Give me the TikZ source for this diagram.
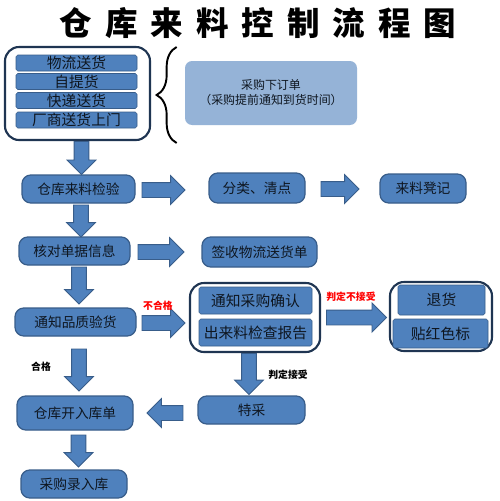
\documentclass[tikz,border=0pt]{standalone}
\usepackage{fontspec}
\usepackage{tikz}
\usetikzlibrary{shapes.arrows,decorations.pathreplacing,calc}
\newfontfamily\cjk{Noto Sans CJK SC}
\newfontfamily\titlefont{Noto Sans CJK SC}[LetterSpace=40]
\definecolor{boxblue}{HTML}{4F81BD}
\definecolor{boxedge}{HTML}{385D8A}
\definecolor{darkblue}{HTML}{1F3552}
\definecolor{lightblue}{HTML}{95B3D7}
\definecolor{inktext}{HTML}{0E1620}
\tikzset{
    flowbox/.style={
        draw=boxedge,
        line width=0.7pt,
        fill=boxblue,
        rounded corners=5pt,
        text=inktext,
        inner sep=0pt,
        font=\cjk\fontsize{7.8pt}{9pt}\selectfont
    }
}
\tikzset{
    barbox/.style={
        flowbox,
        rounded corners=1pt,
        line width=0.3pt,
        font=\cjk\fontsize{8.4pt}{9pt}\selectfont
    }
}
\tikzset{
    groupbox/.style={
        draw=darkblue,
        line width=1.2pt,
        fill=white,
        rounded corners=8pt
    }
}
\tikzset{
    fatarrow/.style={
        draw=boxedge,
        line width=0.5pt,
        fill=boxblue,
        single arrow,
        single arrow head extend=0.14cm,
        inner sep=0.14cm,
        minimum width=0.56cm,
        anchor=tail
    }
}
\tikzset{
    note/.style={font=\cjk\bfseries\fontsize{5.6pt}{6pt}\selectfont, inner sep=0pt}
}
\newcommand{\drawStep}[5]{\node[flowbox, minimum width=#3*0.02cm, minimum height=#4*0.02cm] (#1) at #2 {#5}}
\newcommand{\drawBar}[5]{\node[barbox, minimum width=#3*0.02cm, minimum height=#4*0.02cm] (#1) at #2 {#5}}
\newcommand{\drawGroup}[4]{\node[groupbox, minimum width=#3*0.02cm, minimum height=#4*0.02cm] (#1) at #2 {}}
\newcommand{\drawArrow}[4]{\node[fatarrow, minimum height=#4*0.02cm, rotate=#3] (#1) at #2 {}}

\begin{document}
\begin{tikzpicture}[x=0.02cm, y=-0.02cm]

    \useasboundingbox[fill=white] (0,0) rectangle (500,501);

    \node[font=\titlefont\bfseries\fontsize{18.5pt}{20pt}\selectfont, inner sep=0pt] (title) at (258,23) {仓库来料控制流程图};

    \drawGroup{grpA}{(77.5,93.5)}{145}{93};
    \drawBar{bar1}{(76.5,63)}{121}{16}{物流送货};
    \drawBar{bar2}{(76.5,81.5)}{121}{16}{自提货};
    \drawBar{bar3}{(76.5,100.5)}{121}{16}{快递送货};
    \drawBar{bar4}{(76.5,120)}{121}{16}{厂商送货上门};

    \node[fill=lightblue, rounded corners=4pt, minimum width=172*0.02cm, minimum height=64*0.02cm, align=center, text=inktext, font=\cjk\fontsize{6.8pt}{8.5pt}\selectfont] (order) at (271,93) {采购下订单\\（采购提前通知到货时间）};

    \draw[line width=1.1pt, decorate, decoration={brace, amplitude=0.4cm}] ($(order.west)+(-8,50)$) -- ($(order.west)+(-8,-46)$);

    \drawStep{chk}{(78.5,189)}{113}{28}{仓库来料检验};
    \drawStep{sort}{(257,188)}{96}{30}{分类、清点};
    \drawStep{reg}{(423,188.5)}{86}{29}{来料凳记};

    \drawStep{verify}{(74.5,251)}{111}{28}{核对单据信息};
    \drawStep{sign}{(259.5,252)}{115}{30}{签收物流送货单};

    \drawStep{qc}{(75.5,322)}{121}{28}{通知品质验货};

    \drawGroup{grpB}{(255,317.5)}{130}{69};
    \drawBar{notify}{(255.5,300.5)}{113}{27}{通知采购确认};
    \drawBar{report}{(255.5,332.5)}{113}{27}{出来料检查报告};

    \drawGroup{grpC}{(441,316.5)}{102}{69};
    \drawBar{ret}{(441.5,300)}{87}{30}{退货};
    \drawBar{mark}{(440.5,333.5)}{95}{29}{贴红色标};

    \drawStep{special}{(251.5,410)}{107}{28}{特采};
    \drawStep{inbill}{(75,413)}{116}{34}{仓库开入库单};
    \drawStep{entry}{(74,484)}{106}{28}{采购录入库};

    \drawArrow{aTop}{($(grpA.south)+(4,0)$)}{-90}{33};
    \drawArrow{aChk}{($(chk.south)+(2.5,1)$)}{-90}{32};
    \drawArrow{aVerify}{($(verify.south)+(4.5,1)$)}{-90}{37};
    \drawArrow{aQc}{($(qc.south)+(3.5,12)$)}{-90}{42};
    \drawArrow{aInbill}{($(inbill.south)+(3.5,4)$)}{-90}{32};

    \drawArrow{aSort}{($(chk.east)+(6,1)$)}{0}{43};
    \drawArrow{aReg}{($(sort.east)+(15,1)$)}{0}{38};
    \drawArrow{aSign}{($(verify.east)+(7,1)$)}{0}{46};
    \drawArrow{aFail}{($(qc.east)+(5,1)$)}{0}{43};
    \drawArrow{aReject}{($(grpB.east)+(5,0)$)}{0}{60};
    \drawArrow{aAccept}{($(grpB.south)+(-6,0)$)}{-90}{41};
    \drawArrow{aSpecial}{($(special.west)+(-14,3)$)}{180}{36};

    \node[note, text=red] (lFail) at (158,306) {不合格};
    \node[note, text=red] (lReject) at (351,297) {判定不接受};
    \node[note] (lPass) at (41,367) {合格};
    \node[note] (lAccept) at (288,375) {判定接受};

\end{tikzpicture}
\end{document}
